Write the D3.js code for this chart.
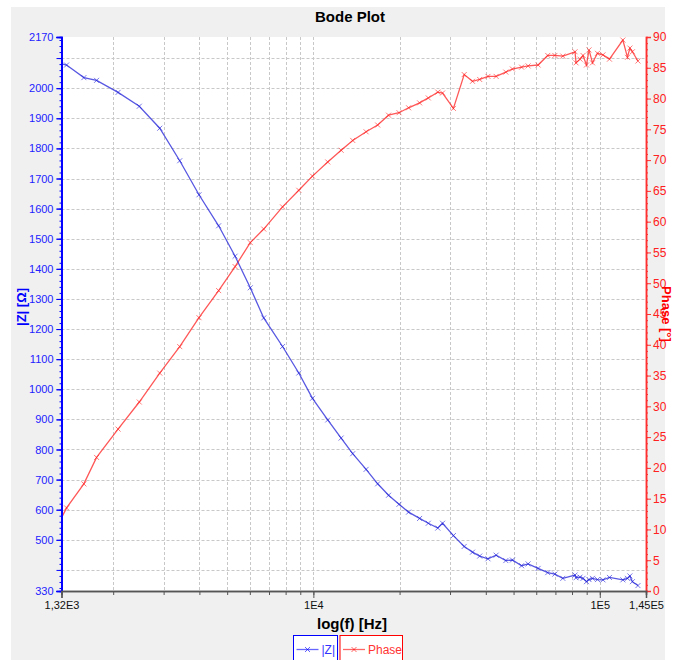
<!DOCTYPE html>
<html><head><meta charset="utf-8">
<script src="https://cdn.jsdelivr.net/npm/d3@7"></script>
<style>
body{margin:0;background:#fff;}
text{font-family:"Liberation Sans",Arial,sans-serif;}
</style></head>
<body><svg id="c" width="675" height="660"></svg>
<script>
// ---- data ----
const frequencies = [1202,1375,1580,1750,2080,2467,2908,3415,3987,4669,5330,6021,6709,7805,8894,9927,11223,12500,13720,15280,16770,18300,19910,21500,23490,25190,27190,28250,30830,33620,35940,38080,40700,43460,46980,49540,53340,56200,60900,65820,69680,74300,81960,82620,85310,87390,89870,91690,94300,98170,102600,108100,120400,124900,127400,130000,135900];
const magnitude = [2090,2077,2035,2026,1986,1940,1867,1759,1646,1543,1442,1337,1237,1142,1054,970,898,838,786,734,686,648,618,592,571,555,539,555,514,478,459,446,437,449,431,433,414,420,405,391,386,372,383,374,376,372,361,368,372,368,367,375,367,372,380,361,348];
const phase = [8.2,13.5,17.4,21.7,26.3,30.7,35.4,39.7,44.4,48.8,52.7,56.6,58.8,62.4,65.1,67.4,69.7,71.6,73.2,74.6,75.7,77.3,77.7,78.5,79.3,80.1,81.05,80.9,78.4,83.9,82.8,83.1,83.6,83.6,84.3,84.8,85.1,85.3,85.45,87.0,87.0,86.9,87.6,85.8,86.4,87.0,85.45,87.9,85.8,87.35,87.1,86.4,89.5,86.7,88.2,87.6,86.1];
const seriesNames = ["|Z|","Phase"];
const xTickLabels = [[1320,"1,32E3"],[1e4,"1E4"],[1e5,"1E5"],[145000,"1,45E5"]];
const xGrid = [2000,3000,4000,5000,6000,7000,8000,9000,10000,20000,30000,40000,50000,60000,70000,80000,90000,100000];
const zMajor = [400,500,600,700,800,900,1000,1100,1200,1300,1400,1500,1600,1700,1800,1900,2000,2100];
const zLabels = [330,500,600,700,800,900,1000,1100,1200,1300,1400,1500,1600,1700,1800,1900,2000,2170];
const phaseLabels = [0,5,10,15,20,25,30,35,40,45,50,55,60,65,70,75,80,85,90];

// ---- layout ----
const L=61.5, R=646, T=37, B=591;
const svg=d3.select("#c");
svg.append("rect").attr("x",11).attr("y",7).attr("width",654).attr("height",653).attr("fill","#f0f0f0");
svg.append("rect").attr("x",L).attr("y",T).attr("width",R-L).attr("height",B-T).attr("fill","#fff");

const x=d3.scaleLog().domain([1320,145000]).range([L,R]);
const yZ=d3.scaleLinear().domain([330,2170]).range([B,T]);
const yP=d3.scaleLinear().domain([0,90]).range([B,T]);

// grid
const g=svg.append("g").attr("stroke","#c8c8c8").attr("stroke-dasharray","3,2").attr("stroke-width",1);
xGrid.forEach(f=>g.append("line").attr("x1",Math.round(x(f))+0.5).attr("x2",Math.round(x(f))+0.5).attr("y1",T).attr("y2",B));
zMajor.forEach(v=>g.append("line").attr("y1",Math.round(yZ(v))+0.5).attr("y2",Math.round(yZ(v))+0.5).attr("x1",L).attr("x2",R));

// clip
svg.append("clipPath").attr("id","clip").append("rect").attr("x",L).attr("y",T-6).attr("width",R-L).attr("height",B-T+6);

const marker="M-2.5,-2.5L2.5,2.5M-2.5,2.5L2.5,-2.5";
function series(vals,yS,col){
  const grp=svg.append("g").attr("clip-path","url(#clip)");
  grp.append("path").datum(vals).attr("fill","none").attr("stroke",col).attr("stroke-width",1.3).attr("stroke-opacity",0.75)
    .attr("d",d3.line().x((d,i)=>x(frequencies[i])).y(d=>yS(d)));
  grp.selectAll("path.m").data(vals).enter().append("path").attr("class","m")
    .attr("transform",(d,i)=>`translate(${x(frequencies[i])},${yS(d)})`)
    .attr("d",marker).attr("stroke",col).attr("stroke-opacity",0.6).attr("fill","none").attr("stroke-width",1);
}
series(phase,yP,"#ff2020");
series(magnitude,yZ,"#2020d8");

// left axis
const la=svg.append("g").attr("transform",`translate(${L},0)`);
la.call(d3.axisLeft(yZ).tickValues(d3.range(340,2170,20)).tickSize(2).tickFormat(""));
la.append("g").call(d3.axisLeft(yZ).tickValues(zMajor.concat([330,2170])).tickSize(5).tickFormat(""));
la.append("g").call(d3.axisLeft(yZ).tickValues(zLabels).tickSize(5).tickPadding(3).tickFormat(d3.format("d")));
la.selectAll("path,line").attr("stroke","#0000ff");
la.selectAll("path.domain").attr("stroke-width",1.5);
la.selectAll("text").attr("fill","#2222ff").attr("font-size",11).attr("font-family","Liberation Sans");

// right axis
const ra=svg.append("g").attr("transform",`translate(${R},0)`);
ra.call(d3.axisRight(yP).tickValues(d3.range(0,91,1)).tickSize(2).tickFormat(""));
ra.append("g").call(d3.axisRight(yP).tickValues(phaseLabels).tickSize(5).tickPadding(2).tickFormat(d3.format("d")));
ra.selectAll("path,line").attr("stroke","#ff3030");
ra.selectAll("path.domain").attr("stroke-width",1.5);
ra.selectAll("text").attr("fill","#ff2020").attr("font-size",12).attr("font-family","Liberation Sans");

// bottom axis
const ba=svg.append("g").attr("transform",`translate(0,${B})`);
ba.call(d3.axisBottom(x).tickValues(xGrid).tickSize(4).tickFormat(""));
ba.append("g").call(d3.axisBottom(x).tickValues(xTickLabels.map(d=>d[0])).tickSize(7).tickPadding(3)
  .tickFormat(d=>xTickLabels.find(t=>t[0]===d)[1]));
ba.selectAll("path,line").attr("stroke","#555");
ba.selectAll("path.domain").attr("stroke-width",1.5);
ba.selectAll("text").attr("fill","#111").attr("font-size",11).attr("font-family","Liberation Sans");

// titles
svg.append("text").attr("x",350).attr("y",22).attr("text-anchor","middle").attr("font-weight","bold").attr("font-size",15).text("Bode Plot");
svg.append("text").attr("x",352).attr("y",629).attr("text-anchor","middle").attr("font-weight","bold").attr("font-size",15).text("log(f) [Hz]");
svg.append("text").attr("transform","translate(26,307) rotate(-90)").attr("text-anchor","middle").attr("font-weight","bold").attr("font-size",13).attr("fill","#0000ff").text("|Z| [Ω]");
svg.append("text").attr("transform","translate(662,314) rotate(90)").attr("text-anchor","middle").attr("font-weight","bold").attr("font-size",13).attr("fill","#ff0000").text("Phase [°]");

// legend
const leg=[{x:293.5,w:44,c:"#0000ff",tc:"#3333ff"},{x:340,w:62.5,c:"#ff0000",tc:"#ff3333"}];
leg.forEach((d,i)=>{
  svg.append("rect").attr("x",d.x).attr("y",635.5).attr("width",d.w).attr("height",30).attr("fill","#fff").attr("stroke",d.c);
  svg.append("line").attr("x1",d.x+3).attr("x2",d.x+25).attr("y1",649.5).attr("y2",649.5).attr("stroke",d.c).attr("stroke-opacity",0.6).attr("stroke-width",1.3);
  svg.append("path").attr("d",marker).attr("transform",`translate(${d.x+14},649.5)`).attr("stroke",d.c).attr("stroke-opacity",0.6);
  svg.append("text").attr("x",d.x+28).attr("y",654).attr("font-size",12).attr("fill",d.tc).text(seriesNames[i]);
});
</script></body></html>
